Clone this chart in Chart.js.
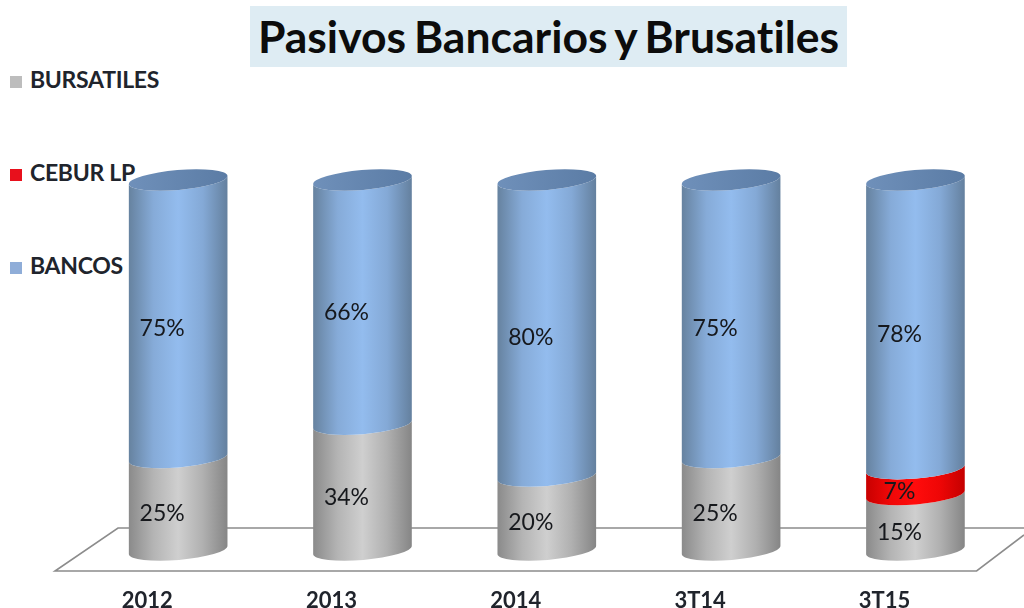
<!DOCTYPE html>
<html><head><meta charset="utf-8">
<script src="https://cdn.jsdelivr.net/npm/chart.js@4"></script>
<style>
html,body{margin:0;padding:0;background:#fff;width:1024px;height:608px;overflow:hidden}
#wrap{position:relative;width:1024px;height:608px;font-family:Lato,sans-serif;font-variant-ligatures:none}
#title{position:absolute;left:250px;top:6px;width:597px;height:61px;background:#deecf3;color:#0c0c0c;font-weight:700;font-size:44.5px;line-height:60px;text-align:center;word-spacing:-3px}
.lg{position:absolute;left:10px;height:20px;line-height:20px;font-weight:700;font-size:23px;color:#20242c;letter-spacing:-.3px;white-space:nowrap}
.lg i{display:inline-block;width:12px;height:12px;margin-right:8px;vertical-align:0px}
canvas{position:absolute;left:0;top:0;z-index:2}
</style></head><body>
<div id="wrap"><div id="title">Pasivos Bancarios y Brusatiles</div><canvas id="c" width="1024" height="608"></canvas></div>
<script>
const chartTitle = 'Pasivos Bancarios y Brusatiles';
const categories = ['2012','2013','2014','3T14','3T15'];
const bursatiles = [25,34,20,25,15];
const ceburLP    = [0,0,0,0,7];
const bancos     = [75,66,80,75,78];
const legendNames = ['BURSATILES','CEBUR LP','BANCOS'];
const legendColors = ['#bdbdbd','#e8101c','#8fadd8'];

const shades = [
  ['#8a8a8a','#b4b4b4','#cfcfcf','#b0b0b0','#858585'],
  ['#c80000','#f00808','#ff0c0c','#ee0606','#c40000'],
  ['#66829f','#86abd8','#93bcee','#84a9d6','#64809e']
];
legendNames.forEach((n,i)=>{
  const d=document.createElement('div');d.className='lg';d.style.top=(69+i*93)+'px';
  d.innerHTML='<i style="background:'+legendColors[i]+'"></i>'+n;
  document.getElementById('wrap').appendChild(d);
});

const cylinders = {
  id:'cylinders',
  beforeDatasetsDraw(chart){
    const {ctx,chartArea:a}=chart;
    const rot=-4.8*Math.PI/180, ry=10;
    // floor
    ctx.save();ctx.strokeStyle='#8c8c8c';ctx.lineWidth=1.6;ctx.beginPath();
    ctx.moveTo(1024,a.bottom-22);ctx.lineTo(a.left+32,a.bottom-22);ctx.lineTo(a.left-31,a.bottom+21);
    ctx.lineTo(a.right-31,a.bottom+21);ctx.lineTo(1024,a.bottom-15);ctx.stroke();ctx.restore();
    const metas=chart.data.datasets.map((_,i)=>chart.getDatasetMeta(i));
    categories.forEach((_,k)=>{
      let topEl=null;
      metas.forEach((m,di)=>{
        const el=m.data[k], v=chart.data.datasets[di].data[k];
        if(!v) return;
        const rx=el.width/2, cx=el.x;
        const g=ctx.createLinearGradient(cx-rx,0,cx+rx,0);
        shades[di].forEach((c,i)=>g.addColorStop(i/4,c));
        ctx.fillStyle=g;ctx.beginPath();
        ctx.ellipse(cx,el.base,rx,ry,rot,0,Math.PI,false);
        ctx.ellipse(cx,el.y,rx,ry,rot,Math.PI,0,true);
        ctx.closePath();ctx.fill();
        topEl=el;
      });
      if(topEl){
        const rx=topEl.width/2;
        const g=ctx.createLinearGradient(topEl.x-rx,0,topEl.x+rx,0);
        g.addColorStop(0,'#6f90ba');g.addColorStop(1,'#5b7ca5');
        ctx.fillStyle=g;ctx.beginPath();
        ctx.ellipse(topEl.x,topEl.y,rx,ry,rot,0,Math.PI*2);ctx.fill();
      }
    });
    ctx.fillStyle='#16181c';ctx.font='23px Lato, sans-serif';ctx.textAlign='center';ctx.textBaseline='middle';
    metas.forEach((m,di)=>m.data.forEach((el,k)=>{
      const v=chart.data.datasets[di].data[k];
      if(v) ctx.fillText(v+'%',el.x-16,(el.y+el.base)/2+10);
    }));
    return false;
  }
};

new Chart(document.getElementById('c'),{
  type:'bar',
  data:{labels:categories,datasets:[
    {label:legendNames[0],data:bursatiles,backgroundColor:legendColors[0]},
    {label:legendNames[1],data:ceburLP,backgroundColor:legendColors[1]},
    {label:legendNames[2],data:bancos,backgroundColor:legendColors[2]}
  ]},
  options:{
    responsive:false,animation:false,
    layout:{padding:{left:86,right:16.4,top:180,bottom:0}},
    datasets:{bar:{barPercentage:1,categoryPercentage:.537}},
    plugins:{legend:{display:false},tooltip:{enabled:false},title:{display:false}},
    scales:{
      x:{stacked:true,grid:{display:false},border:{display:false},
         afterFit(s){s.height=58;},
         ticks:{labelOffset:-31,padding:30,maxRotation:0,autoSkip:false,color:'#20242c',font:{family:'Lato',weight:'700',size:22}}},
      y:{stacked:true,display:false,min:0,max:100}
    }
  },
  plugins:[cylinders]
});
</script>
</body></html>
